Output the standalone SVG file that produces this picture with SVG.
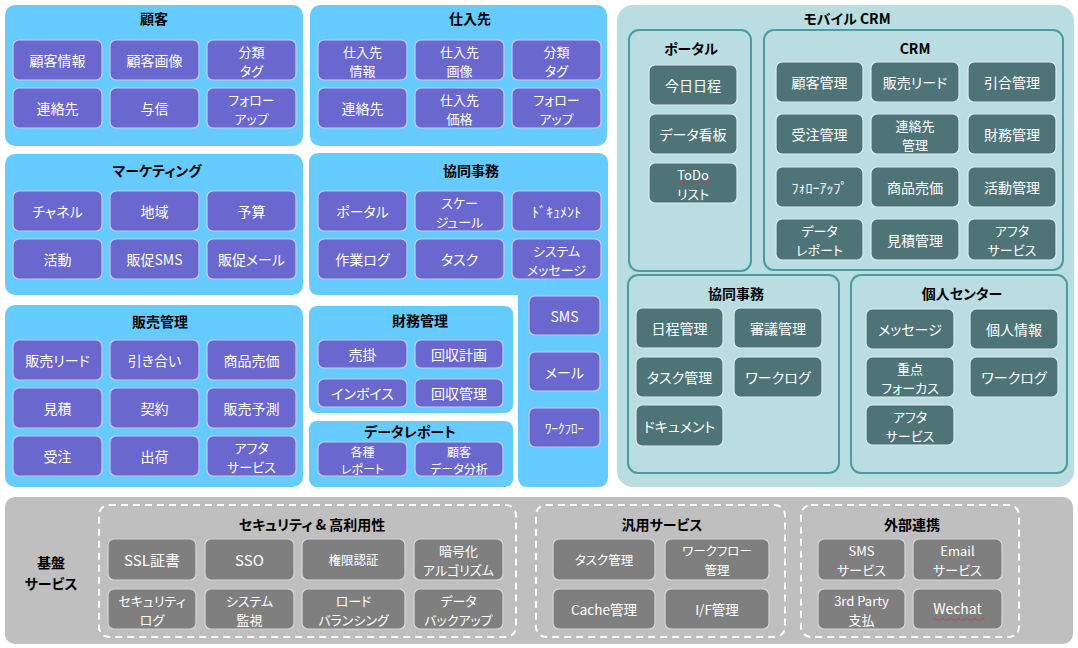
<svg xmlns="http://www.w3.org/2000/svg" width="1078" height="648" viewBox="0 0 1078 648">
<style>
text{font-family:"Noto Sans CJK JP","Noto Sans",sans-serif;text-anchor:middle;dominant-baseline:central;font-feature-settings:"palt" 1}
tspan{dominant-baseline:central}
.panel{fill:#66CCFF}
.it{fill:#6A67CE;stroke:#C9C7F0;stroke-width:1.2}
.mob{fill:#B9DDE1}
.sub{fill:#B9DDE1;stroke:#4A9BA3;stroke-width:2}
.dk{fill:#4E7478;stroke:#DCEAEC;stroke-width:1.2}
.gp{fill:#BFBFBF}
.dash{fill:none;stroke:#FFFFFF;stroke-width:2;stroke-dasharray:7 5}
.gi{fill:#7F7F7F;stroke:#D6D6D6;stroke-width:1.2}
.t{fill:#FFFFFF;font-size:14px}
.t2{fill:#FFFFFF;font-size:13px}
.t3{fill:#FFFFFF;font-size:12px}
.s{fill:#FFFFFF;font-size:12.5px}
.h{fill:#000000;font-size:14px;font-weight:bold}
.sp{fill:none;stroke:#E03030;stroke-width:1;stroke-dasharray:1.5 1}
</style>
<rect width="1078" height="648" fill="#FFFFFF"/>
<g id="connectors"/>

<g id="customer">
<rect class="panel" x="5" y="5" width="298" height="141" rx="10"/>
<text class="h" x="154" y="18">顧客</text>
<g id="c1"><rect class="it" x="13" y="40" width="89" height="40" rx="6"/><text class="t" x="57.5" y="60">顧客情報</text></g>
<g id="c2"><rect class="it" x="110" y="40" width="89" height="40" rx="6"/><text class="t" x="154.5" y="60">顧客画像</text></g>
<g id="c3"><rect class="it" x="207" y="40" width="89" height="40" rx="6"/><text class="t2"><tspan x="251.5" y="50.5">分類</tspan><tspan x="251.5" y="69.5">タグ</tspan></text></g>
<g id="c4"><rect class="it" x="13" y="88" width="89" height="40" rx="6"/><text class="t" x="57.5" y="108">連絡先</text></g>
<g id="c5"><rect class="it" x="110" y="88" width="89" height="40" rx="6"/><text class="t" x="154.5" y="108">与信</text></g>
<g id="c6"><rect class="it" x="207" y="88" width="89" height="40" rx="6"/><text class="t2"><tspan x="251.5" y="98.5">フォロー</tspan><tspan x="251.5" y="117.5">アップ</tspan></text></g>
</g>

<g id="supplier">
<rect class="panel" x="310" y="5" width="297" height="141" rx="10"/>
<text class="h" x="470" y="18">仕入先</text>
<g id="s1"><rect class="it" x="318" y="40" width="89" height="40" rx="6"/><text class="t2"><tspan x="362.5" y="50.5">仕入先</tspan><tspan x="362.5" y="69.5">情報</tspan></text></g>
<g id="s2"><rect class="it" x="415" y="40" width="89" height="40" rx="6"/><text class="t2"><tspan x="459.5" y="50.5">仕入先</tspan><tspan x="459.5" y="69.5">画像</tspan></text></g>
<g id="s3"><rect class="it" x="512" y="40" width="89" height="40" rx="6"/><text class="t2"><tspan x="556.5" y="50.5">分類</tspan><tspan x="556.5" y="69.5">タグ</tspan></text></g>
<g id="s4"><rect class="it" x="318" y="88" width="89" height="40" rx="6"/><text class="t" x="362.5" y="108">連絡先</text></g>
<g id="s5"><rect class="it" x="415" y="88" width="89" height="40" rx="6"/><text class="t2"><tspan x="459.5" y="98.5">仕入先</tspan><tspan x="459.5" y="117.5">価格</tspan></text></g>
<g id="s6"><rect class="it" x="512" y="88" width="89" height="40" rx="6"/><text class="t2"><tspan x="556.5" y="98.5">フォロー</tspan><tspan x="556.5" y="117.5">アップ</tspan></text></g>
</g>

<g id="marketing">
<rect class="panel" x="5" y="154" width="298" height="141" rx="10"/>
<text class="h" x="157" y="170">マーケティング</text>
<g id="mk1"><rect class="it" x="13" y="191" width="89" height="40" rx="6"/><text class="t" x="57.5" y="211">チャネル</text></g>
<g id="mk2"><rect class="it" x="110" y="191" width="89" height="40" rx="6"/><text class="t" x="154.5" y="211">地域</text></g>
<g id="mk3"><rect class="it" x="207" y="191" width="89" height="40" rx="6"/><text class="t" x="251.5" y="211">予算</text></g>
<g id="mk4"><rect class="it" x="13" y="239" width="89" height="40" rx="6"/><text class="t" x="57.5" y="259">活動</text></g>
<g id="mk5"><rect class="it" x="110" y="239" width="89" height="40" rx="6"/><text class="t" x="154.5" y="259">販促SMS</text></g>
<g id="mk6"><rect class="it" x="207" y="239" width="89" height="40" rx="6"/><text class="t" x="251.5" y="259">販促メール</text></g>
</g>

<g id="collab">
<path class="panel" d="M319,153 H598 Q608,153 608,163 V477 Q608,487 598,487 H528 Q518,487 518,477 V295 H319 Q309,295 309,285 V163 Q309,153 319,153 Z"/>
<text class="h" x="471" y="170">協同事務</text>
<g id="cb1"><rect class="it" x="318" y="191" width="89" height="40" rx="6"/><text class="t" x="362.5" y="211">ポータル</text></g>
<g id="cb2"><rect class="it" x="415" y="191" width="89" height="40" rx="6"/><text class="t2"><tspan x="459.5" y="201.5">スケー</tspan><tspan x="459.5" y="220.5">ジュール</tspan></text></g>
<g id="cb3"><rect class="it" x="512" y="191" width="89" height="40" rx="6"/><text class="t" x="556.5" y="211">ﾄﾞｷｭﾒﾝﾄ</text></g>
<g id="cb4"><rect class="it" x="318" y="239" width="89" height="40" rx="6"/><text class="t" x="362.5" y="259">作業ログ</text></g>
<g id="cb5"><rect class="it" x="415" y="239" width="89" height="40" rx="6"/><text class="t" x="459.5" y="259">タスク</text></g>
<g id="cb6"><rect class="it" x="512" y="239" width="89" height="40" rx="6"/><text class="t2"><tspan x="556.5" y="249.5">システム</tspan><tspan x="556.5" y="268.5">メッセージ</tspan></text></g>
<g id="cb7"><rect class="it" x="529" y="296" width="71" height="39" rx="6"/><text class="t" x="564.5" y="315.5">SMS</text></g>
<g id="cb8"><rect class="it" x="529" y="352" width="71" height="39" rx="6"/><text class="t" x="564.5" y="371.5">メール</text></g>
<g id="cb9"><rect class="it" x="529" y="408" width="71" height="39" rx="6"/><text class="t" x="564.5" y="427.5" style="font-size:13px">ﾜｰｸﾌﾛｰ</text></g>
</g>

<g id="sales">
<rect class="panel" x="5" y="305" width="298" height="182" rx="10"/>
<text class="h" x="160" y="321">販売管理</text>
<g id="sl1"><rect class="it" x="13" y="340" width="89" height="40" rx="6"/><text class="t" x="57.5" y="360">販売リード</text></g>
<g id="sl2"><rect class="it" x="110" y="340" width="89" height="40" rx="6"/><text class="t" x="154.5" y="360">引き合い</text></g>
<g id="sl3"><rect class="it" x="207" y="340" width="89" height="40" rx="6"/><text class="t" x="251.5" y="360">商品売価</text></g>
<g id="sl4"><rect class="it" x="13" y="388" width="89" height="40" rx="6"/><text class="t" x="57.5" y="408">見積</text></g>
<g id="sl5"><rect class="it" x="110" y="388" width="89" height="40" rx="6"/><text class="t" x="154.5" y="408">契約</text></g>
<g id="sl6"><rect class="it" x="207" y="388" width="89" height="40" rx="6"/><text class="t" x="251.5" y="408">販売予測</text></g>
<g id="sl7"><rect class="it" x="13" y="436" width="89" height="40" rx="6"/><text class="t" x="57.5" y="456">受注</text></g>
<g id="sl8"><rect class="it" x="110" y="436" width="89" height="40" rx="6"/><text class="t" x="154.5" y="456">出荷</text></g>
<g id="sl9"><rect class="it" x="207" y="436" width="89" height="40" rx="6"/><text class="t2"><tspan x="251.5" y="446.5">アフタ</tspan><tspan x="251.5" y="465.5">サービス</tspan></text></g>
</g>

<g id="finance">
<rect class="panel" x="309" y="306" width="204" height="107" rx="8"/>
<text class="h" x="420" y="320">財務管理</text>
<g id="f1"><rect class="it" x="318" y="340" width="89" height="28" rx="6"/><text class="t" x="362.5" y="354">売掛</text></g>
<g id="f2"><rect class="it" x="415" y="340" width="88" height="28" rx="6"/><text class="t" x="459" y="354">回収計画</text></g>
<g id="f3"><rect class="it" x="318" y="379" width="89" height="28" rx="6"/><text class="t" x="362.5" y="393">インボイス</text></g>
<g id="f4"><rect class="it" x="415" y="379" width="88" height="28" rx="6"/><text class="t" x="459" y="393">回収管理</text></g>
</g>

<g id="datareport">
<rect class="panel" x="309" y="421" width="204" height="66" rx="8"/>
<g id="d1"><rect class="it" x="318" y="442" width="89" height="34" rx="6"/><text class="t3"><tspan x="362.5" y="450.5">各種</tspan><tspan x="362.5" y="468">レポート</tspan></text></g>
<g id="d2"><rect class="it" x="415" y="442" width="88" height="34" rx="6"/><text class="t3"><tspan x="459" y="450.5">顧客</tspan><tspan x="459" y="468">データ分析</tspan></text></g>
<text class="h" x="410" y="431">データレポート</text>
</g>

<g id="mobile">
<rect class="mob" x="617" y="5" width="457" height="482" rx="16"/>
<text class="h" x="847" y="18">モバイル CRM</text>
</g>
<g id="m-portal">
<rect class="sub" x="629" y="30" width="122" height="241" rx="10"/>
<text class="h" x="691" y="48">ポータル</text>
<g id="mp1"><rect class="dk" x="649" y="65" width="88" height="40" rx="6"/><text class="t" x="693" y="85">今日日程</text></g>
<g id="mp2"><rect class="dk" x="649" y="114" width="88" height="40" rx="6"/><text class="t" x="693" y="134">データ看板</text></g>
<g id="mp3"><rect class="dk" x="649" y="163" width="88" height="40" rx="6"/><text class="t2"><tspan x="693" y="173.5">ToDo</tspan><tspan x="693" y="192.5">リスト</tspan></text>
<path class="sp" d="M675,182 q2,-1.5 4,0 t4,0 t4,0 t4,0 t4,0 t4,0 t4,0 t4,0 t4,0"/></g>
</g>
<g id="m-crm">
<rect class="sub" x="764" y="30" width="299" height="240" rx="10"/>
<text class="h" x="915" y="48">CRM</text>
<g id="mc1"><rect class="dk" x="776" y="62" width="87" height="40" rx="6"/><text class="t" x="819.5" y="82">顧客管理</text></g>
<g id="mc2"><rect class="dk" x="871" y="62" width="88" height="40" rx="6"/><text class="t" x="915" y="82">販売リード</text></g>
<g id="mc3"><rect class="dk" x="968" y="62" width="88" height="40" rx="6"/><text class="t" x="1012" y="82">引合管理</text></g>
<g id="mc4"><rect class="dk" x="776" y="114" width="87" height="40" rx="6"/><text class="t" x="819.5" y="134">受注管理</text></g>
<g id="mc5"><rect class="dk" x="871" y="114" width="88" height="40" rx="6"/><text class="t2"><tspan x="915" y="124.5">連絡先</tspan><tspan x="915" y="143.5">管理</tspan></text></g>
<g id="mc6"><rect class="dk" x="968" y="114" width="88" height="40" rx="6"/><text class="t" x="1012" y="134">財務管理</text></g>
<g id="mc7"><rect class="dk" x="776" y="167" width="87" height="40" rx="6"/><text class="t" x="819.5" y="187">ﾌｫﾛｰｱｯﾌﾟ</text></g>
<g id="mc8"><rect class="dk" x="871" y="167" width="88" height="40" rx="6"/><text class="t" x="915" y="187">商品売価</text></g>
<g id="mc9"><rect class="dk" x="968" y="167" width="88" height="40" rx="6"/><text class="t" x="1012" y="187">活動管理</text></g>
<g id="mc10"><rect class="dk" x="776" y="219" width="87" height="41" rx="6"/><text class="t2"><tspan x="819.5" y="230">データ</tspan><tspan x="819.5" y="249">レポート</tspan></text></g>
<g id="mc11"><rect class="dk" x="871" y="219" width="88" height="41" rx="6"/><text class="t" x="915" y="239.5">見積管理</text></g>
<g id="mc12"><rect class="dk" x="968" y="219" width="88" height="41" rx="6"/><text class="t2"><tspan x="1012" y="230">アフタ</tspan><tspan x="1012" y="249">サービス</tspan></text></g>
</g>
<g id="m-collab">
<rect class="sub" x="628" y="275" width="211" height="198" rx="10"/>
<text class="h" x="736" y="293">協同事務</text>
<g id="mw1"><rect class="dk" x="636" y="308" width="87" height="40" rx="6"/><text class="t" x="679.5" y="328">日程管理</text></g>
<g id="mw2"><rect class="dk" x="734" y="308" width="88" height="40" rx="6"/><text class="t" x="778" y="328">審議管理</text></g>
<g id="mw3"><rect class="dk" x="636" y="357" width="87" height="40" rx="6"/><text class="t" x="679.5" y="377">タスク管理</text></g>
<g id="mw4"><rect class="dk" x="734" y="357" width="88" height="40" rx="6"/><text class="t" x="778" y="377">ワークログ</text></g>
<g id="mw5"><rect class="dk" x="636" y="405" width="87" height="41" rx="6"/><text class="t" x="679.5" y="425.5">ドキュメント</text></g>
</g>
<g id="m-personal">
<rect class="sub" x="851" y="275" width="216" height="198" rx="10"/>
<text class="h" x="962" y="293">個人センター</text>
<g id="mi1"><rect class="dk" x="866" y="309" width="88" height="40" rx="6"/><text class="t" x="910" y="329">メッセージ</text></g>
<g id="mi2"><rect class="dk" x="970" y="309" width="88" height="40" rx="6"/><text class="t" x="1014" y="329">個人情報</text></g>
<g id="mi3"><rect class="dk" x="866" y="357" width="88" height="40" rx="6"/><text class="t2"><tspan x="910" y="367.5">重点</tspan><tspan x="910" y="386.5">フォーカス</tspan></text></g>
<g id="mi4"><rect class="dk" x="970" y="357" width="88" height="40" rx="6"/><text class="t" x="1014" y="377">ワークログ</text></g>
<g id="mi5"><rect class="dk" x="866" y="405" width="88" height="40" rx="6"/><text class="t2"><tspan x="910" y="415.5">アフタ</tspan><tspan x="910" y="434.5">サービス</tspan></text></g>
</g>

<g id="infra">
<rect class="gp" x="5" y="497" width="1068" height="147" rx="10"/>
<text class="h"><tspan x="51" y="562">基盤</tspan><tspan x="51" y="583">サービス</tspan></text>
</g>
<g id="security">
<rect class="dash" x="99" y="505" width="417" height="132" rx="10"/>
<text class="h" x="312" y="524">セキュリティ &amp; 高利用性</text>
<g id="b1"><rect class="gi" x="108" y="539" width="88" height="41" rx="6"/><text class="t" x="152" y="559.5" style="font-size:15px">SSL証書</text></g>
<g id="b2"><rect class="gi" x="205" y="539" width="89" height="41" rx="6"/><text class="t" x="249.5" y="559.5" style="font-size:15px">SSO</text></g>
<g id="b3"><rect class="gi" x="302" y="539" width="103" height="41" rx="6"/><text class="s" x="353.5" y="559.5">権限認証</text></g>
<g id="b4"><rect class="gi" x="414" y="539" width="89" height="41" rx="6"/><text class="t2"><tspan x="458.5" y="550">暗号化</tspan><tspan x="458.5" y="569">アルゴリズム</tspan></text></g>
<g id="b5"><rect class="gi" x="108" y="589" width="88" height="40" rx="6"/><text class="t2"><tspan x="152" y="599.5">セキュリティ</tspan><tspan x="152" y="618.5">ログ</tspan></text></g>
<g id="b6"><rect class="gi" x="205" y="589" width="89" height="40" rx="6"/><text class="t2"><tspan x="249.5" y="599.5">システム</tspan><tspan x="249.5" y="618.5">監視</tspan></text></g>
<g id="b7"><rect class="gi" x="302" y="589" width="103" height="40" rx="6"/><text class="t2"><tspan x="353.5" y="599.5">ロード</tspan><tspan x="353.5" y="618.5">バランシング</tspan></text></g>
<g id="b8"><rect class="gi" x="414" y="589" width="89" height="40" rx="6"/><text class="t2"><tspan x="458.5" y="599.5">データ</tspan><tspan x="458.5" y="618.5">バックアップ</tspan></text></g>
</g>
<g id="common">
<rect class="dash" x="536" y="505" width="249" height="132" rx="10"/>
<text class="h" x="662" y="524">汎用サービス</text>
<g id="g1"><rect class="gi" x="553" y="539" width="102" height="41" rx="6"/><text class="s" x="604" y="559.5">タスク管理</text></g>
<g id="g2"><rect class="gi" x="665" y="539" width="104" height="41" rx="6"/><text class="s"><tspan x="717" y="550">ワークフロー</tspan><tspan x="717" y="569">管理</tspan></text></g>
<g id="g3"><rect class="gi" x="553" y="589" width="102" height="40" rx="6"/><text class="t" x="604" y="609" style="font-size:13.5px">Cache管理</text></g>
<g id="g4"><rect class="gi" x="665" y="589" width="104" height="40" rx="6"/><text class="t" x="717" y="609" style="font-size:13.5px">I/F管理</text></g>
</g>
<g id="external">
<rect class="dash" x="801" y="505" width="218" height="132" rx="10"/>
<text class="h" x="912" y="524">外部連携</text>
<g id="e1"><rect class="gi" x="818" y="539" width="87" height="41" rx="6"/><text class="t2"><tspan x="861.5" y="550">SMS</tspan><tspan x="861.5" y="569">サービス</tspan></text></g>
<g id="e2"><rect class="gi" x="913" y="539" width="89" height="41" rx="6"/><text class="t2"><tspan x="957.5" y="550">Email</tspan><tspan x="957.5" y="569">サービス</tspan></text></g>
<g id="e3"><rect class="gi" x="818" y="589" width="87" height="40" rx="6"/><text class="t2"><tspan x="861.5" y="599.5">3rd Party</tspan><tspan x="861.5" y="618.5">支払</tspan></text></g>
<g id="e4"><rect class="gi" x="913" y="589" width="89" height="40" rx="6"/><text class="t" x="957.5" y="608">Wechat</text>
<path class="sp" d="M933,619.5 q2,-1.5 4,0 t4,0 t4,0 t4,0 t4,0 t4,0 t4,0 t4,0 t4,0 t4,0 t4,0 t4,0 t4,0"/></g>
</g>
</svg>
